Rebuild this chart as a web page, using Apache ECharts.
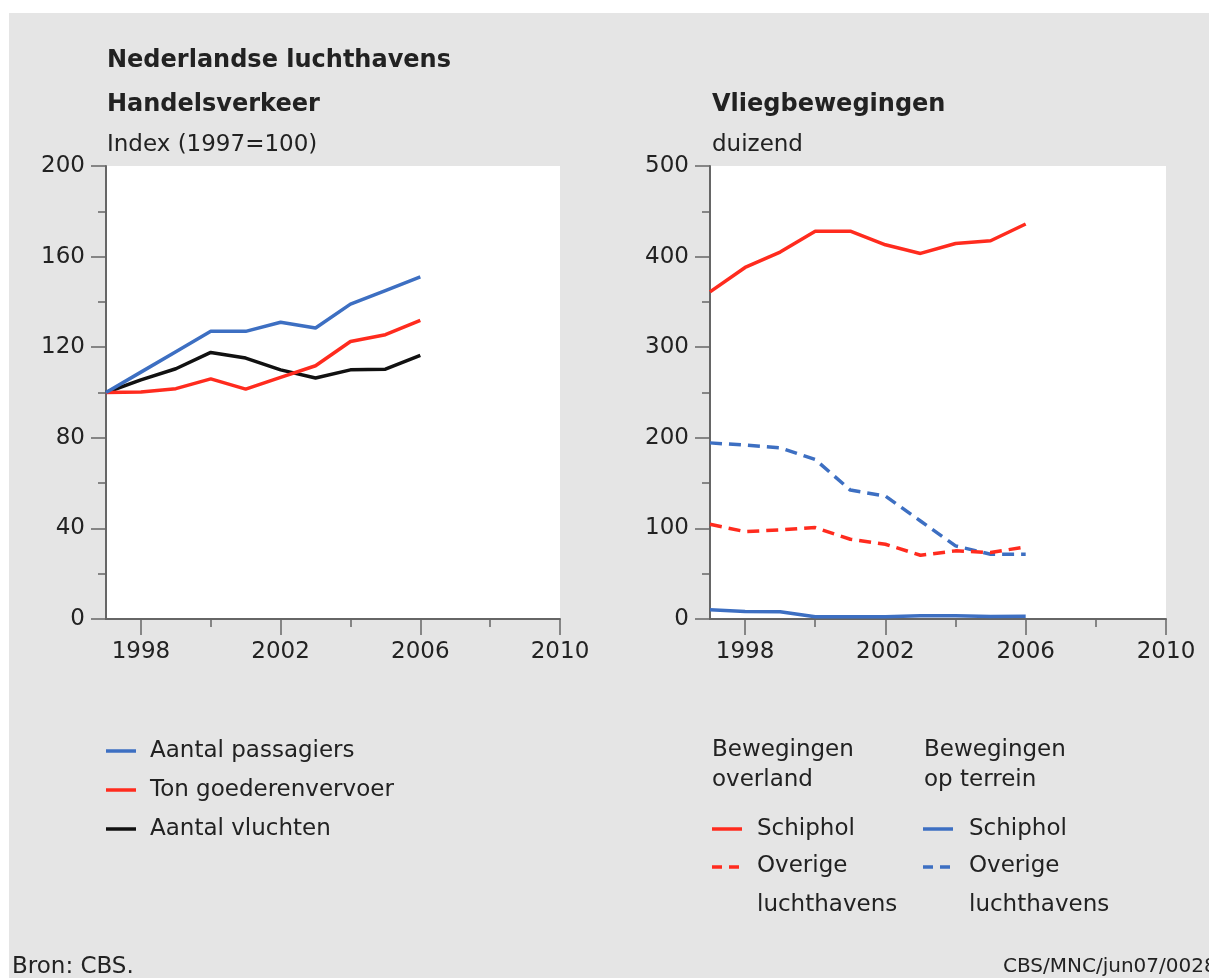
<!DOCTYPE html>
<html lang="nl">
<head>
    <meta charset="UTF-8">
    <title>Nederlandse luchthavens</title>
    <script src="https://cdn.jsdelivr.net/npm/echarts@6/dist/echarts.min.js"></script>
    <style>
        body { margin: 0; background: #fff; }
        #chart { width: 1209px; height: 978px; }
    </style>
</head>
<body>
<div id="chart"></div>
<script>
    // jaren en waarden
    var years = [1997, 1998, 1999, 2000, 2001, 2002, 2003, 2004, 2005, 2006];
    var yearLabels = [1998, 2002, 2006, 2010];
    var yearMinor = [2000, 2004, 2008];

    // Handelsverkeer, index 1997=100
    var passagiers = [100, 109, 118, 127, 127, 131, 128.5, 139, 145, 151];
    var goederen = [100, 100.2, 101.7, 106, 101.5, 106.7, 111.8, 122.5, 125.5, 131.8];
    var vluchten = [100, 105.6, 110.5, 117.7, 115.2, 110, 106.4, 110, 110.3, 116.4];

    // Vliegbewegingen, duizend
    var schipholOverland = [361, 388, 405, 428, 428, 413, 403.5, 414.5, 417.5, 436];
    var overigeOverland = [104.5, 96.5, 98.3, 100.9, 88, 82.5, 70.4, 75.2, 73.4, 79.6];
    var schipholTerrein = [10.3, 8.4, 8, 2.6, 2.5, 2.5, 3.7, 3.5, 2.8, 3];
    var overigeTerrein = [194.4, 191.9, 189, 176, 142.3, 135.7, 108.2, 80.7, 71.5, 71.5];

    var FONT = '"DejaVu Sans", sans-serif';
    var BLUE = '#3d6fc2';
    var RED = '#ff2b1e';
    var BLACK = '#111';
    var AXIS = '#666';

    function pairs(vals) {
        return years.map(function (y, i) { return [y, vals[i]]; });
    }

    function xMain(grid) {
        return {
            type: 'value', gridIndex: grid, min: 1997, max: 2010,
            axisLine: {show: true, lineStyle: {color: AXIS, width: 2}},
            axisTick: {show: true, customValues: yearLabels, length: 16, lineStyle: {color: AXIS, width: 1.5}},
            axisLabel: {
                customValues: yearLabels, fontSize: 23, fontFamily: FONT, color: '#222', margin: 22,
                formatter: function (v) { return String(v); }
            },
            splitLine: {show: false}
        };
    }

    function xMinor(grid) {
        return {
            type: 'value', gridIndex: grid, min: 1997, max: 2010, position: 'bottom',
            axisLine: {show: false},
            axisTick: {show: true, customValues: yearMinor, length: 8, lineStyle: {color: AXIS, width: 1.5}},
            axisLabel: {show: false},
            splitLine: {show: false}
        };
    }

    function yAxis(grid, max, interval) {
        return {
            type: 'value', gridIndex: grid, min: 0, max: max, interval: interval,
            axisLine: {show: true, lineStyle: {color: AXIS, width: 2}},
            axisTick: {show: true, length: 15, lineStyle: {color: AXIS, width: 1.5}},
            minorTick: {show: true, splitNumber: 2, length: 8, lineStyle: {color: AXIS, width: 1.5}},
            axisLabel: {fontSize: 23, fontFamily: FONT, color: '#222', margin: 21},
            splitLine: {show: false},
            minorSplitLine: {show: false}
        };
    }

    function line(name, x, y, vals, color, dashed) {
        return {
            name: name, type: 'line', xAxisIndex: x, yAxisIndex: y,
            data: pairs(vals), symbol: 'none',
            lineStyle: {color: color, width: 3.5, type: dashed ? [12, 7] : 'solid'}
        };
    }

    function txt(x, y, s, opts) {
        opts = opts || {};
        return {
            type: 'text', x: x, y: y, z: 10,
            style: {
                text: s, fill: '#222', align: opts.align || 'left', verticalAlign: 'middle',
                font: (opts.bold ? 'bold ' : '') + (opts.size || 23) + 'px ' + FONT
            }
        };
    }

    function key(x, y, color, dashed) {
        return {
            type: 'line', z: 10,
            shape: {x1: x, y1: y, x2: x + 30, y2: y},
            style: {stroke: color, lineWidth: 3.5, lineDash: dashed ? [10, 7] : null}
        };
    }

    var chart = echarts.init(document.getElementById('chart'));

    var option = {
        animation: false,
        backgroundColor: '#fff',
        grid: [
            {left: 106, top: 166, width: 454, height: 453, show: true, backgroundColor: '#fff', borderWidth: 0},
            {left: 710, top: 166, width: 456, height: 453, show: true, backgroundColor: '#fff', borderWidth: 0}
        ],
        xAxis: [xMain(0), xMain(1), xMinor(0), xMinor(1)],
        yAxis: [yAxis(0, 200, 40), yAxis(1, 500, 100)],
        series: [
            line('Aantal vluchten', 0, 0, vluchten, BLACK, false),
            line('Ton goederenvervoer', 0, 0, goederen, RED, false),
            line('Aantal passagiers', 0, 0, passagiers, BLUE, false),
            line('Schiphol (op terrein)', 1, 1, schipholTerrein, BLUE, false),
            line('Overige luchthavens (op terrein)', 1, 1, overigeTerrein, BLUE, true),
            line('Overige luchthavens (overland)', 1, 1, overigeOverland, RED, true),
            line('Schiphol (overland)', 1, 1, schipholOverland, RED, false)
        ],
        graphic: [
            {type: 'rect', z: -10, shape: {x: 9, y: 13, width: 1200, height: 965}, style: {fill: '#e5e5e5'}, silent: true},

            txt(107, 61, 'Nederlandse luchthavens', {bold: true, size: 24}),
            txt(107, 105, 'Handelsverkeer', {bold: true, size: 24}),
            txt(107, 145, 'Index (1997=100)'),
            txt(712, 105, 'Vliegbewegingen', {bold: true, size: 24}),
            txt(712, 145, 'duizend'),

            // legenda links
            key(106, 751, BLUE, false), txt(150, 751, 'Aantal passagiers'),
            key(106, 790, RED, false), txt(150, 790, 'Ton goederenvervoer'),
            key(106, 829, BLACK, false), txt(150, 829, 'Aantal vluchten'),

            // legenda rechts
            txt(712, 750, 'Bewegingen'), txt(712, 780, 'overland'),
            txt(924, 750, 'Bewegingen'), txt(924, 780, 'op terrein'),
            key(712, 829, RED, false), txt(757, 829, 'Schiphol'),
            key(712, 867, RED, true), txt(757, 866, 'Overige'), txt(757, 905, 'luchthavens'),
            key(923, 829, BLUE, false), txt(969, 829, 'Schiphol'),
            key(923, 867, BLUE, true), txt(969, 866, 'Overige'), txt(969, 905, 'luchthavens'),

            txt(12, 967, 'Bron: CBS.'),
            txt(1003, 967, 'CBS/MNC/jun07/0028', {size: 20})
        ]
    };

    chart.setOption(option);
</script>
</body>
</html>
